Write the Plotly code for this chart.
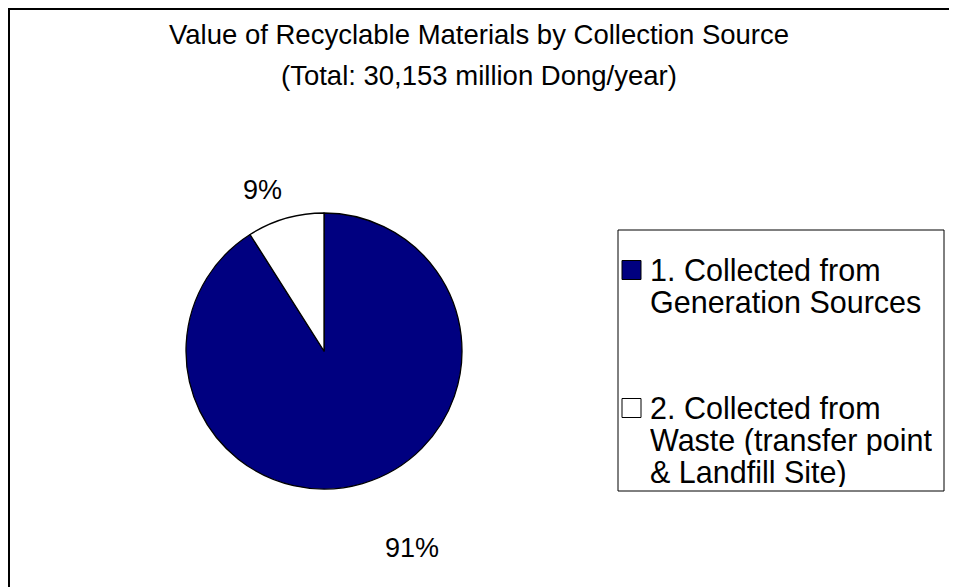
import plotly.graph_objects as go

# Figure is placed by the page at an 8px body margin, so it is sized to fit the window.
W, H = 949, 579

# ---- data ----
labels = ["1. Collected from Generation Sources",
          "2. Collected from Waste (transfer point & Landfill Site)"]
legend_lines = [["1. Collected from", "Generation Sources"],
                ["2. Collected from", "Waste (transfer point", "& Landfill Site)"]]
values = [91, 9]
colors = ["#000080", "#FFFFFF"]
title_lines = ["Value of Recyclable Materials by Collection Source",
               "(Total: 30,153 million Dong/year)"]

FONT = "Liberation Sans, Arial, sans-serif"


def px(x):
    return x / W


def py(y):
    return 1 - y / H


cx, cy, r = 316, 343, 138

fig = go.Figure()
fig.add_trace(go.Pie(
    labels=labels, values=values, sort=False, direction="clockwise", rotation=0,
    marker=dict(colors=colors, line=dict(color="black", width=1.3)),
    textinfo="none", hoverinfo="label+percent", showlegend=False,
    domain=dict(x=[px(cx - r), px(cx + r)], y=[py(cy + r), py(cy - r)]),
))

total = sum(values)
pct = [f"{round(v / total * 100)}%" for v in values]
label_pos = [(404, 540), (254, 182)]

annotations = []
for t, (x, y) in zip(pct, label_pos):
    annotations.append(dict(x=px(x), y=py(y), xref="paper", yref="paper", text=t,
                            showarrow=False, xanchor="center", yanchor="middle",
                            font=dict(family=FONT, size=27, color="black")))

for t, y in zip(title_lines, [27, 67]):
    annotations.append(dict(x=px(471), y=py(y), xref="paper", yref="paper", text=t,
                            showarrow=False, xanchor="center", yanchor="middle",
                            font=dict(family=FONT, size=27.5, color="black")))

shapes = []
# outer chart border (only top/left visible)
shapes.append(dict(type="rect", xref="paper", yref="paper",
                   x0=px(1), x1=1.02, y0=-0.02, y1=py(1),
                   line=dict(color="black", width=2), fillcolor="rgba(0,0,0,0)"))
# legend box
shapes.append(dict(type="rect", xref="paper", yref="paper",
                   x0=px(610), x1=px(936), y0=py(483), y1=py(222),
                   line=dict(color="black", width=1), fillcolor="white"))

legend_item_y = [262, 400]
line_h = 32
for col, lines, y0 in zip(colors, legend_lines, legend_item_y):
    shapes.append(dict(type="rect", xref="paper", yref="paper",
                       x0=px(614), x1=px(633), y0=py(y0 + 9.5), y1=py(y0 - 9.5),
                       line=dict(color="black", width=1), fillcolor=col))
    for k, ln in enumerate(lines):
        annotations.append(dict(x=px(641), y=py(y0 + k * line_h), xref="paper", yref="paper",
                                text=ln, showarrow=False, xanchor="left", yanchor="middle",
                                height=30, borderpad=0,
                                font=dict(family=FONT, size=30.5, color="black")))

fig.update_layout(
    width=W, height=H, autosize=False,
    margin=dict(l=0, r=0, t=0, b=0),
    paper_bgcolor="white", plot_bgcolor="white",
    annotations=annotations, shapes=shapes,
)

fig.write_html("out.html")
